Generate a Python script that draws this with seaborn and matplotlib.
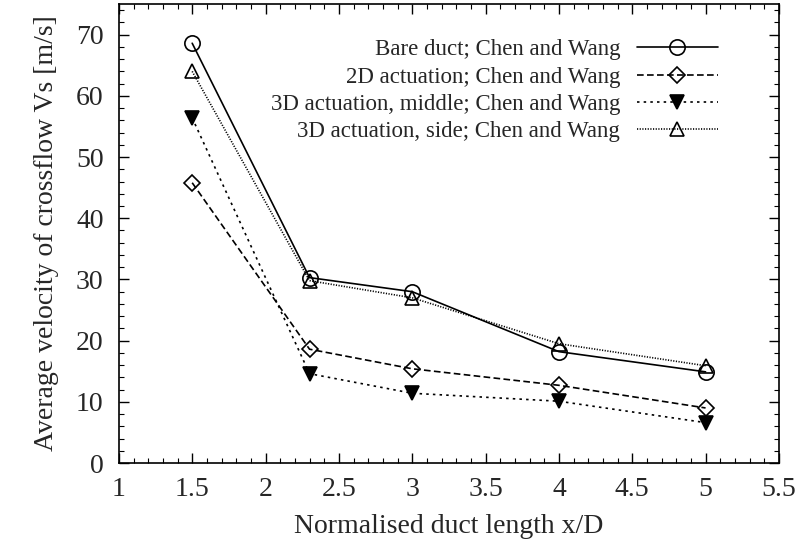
import numpy as np
import pandas as pd
import seaborn as sns
import matplotlib
matplotlib.use("Agg")
import matplotlib.pyplot as plt
from matplotlib.ticker import MultipleLocator

# measured positions along the duct
xD = [1.5, 2.3, 3.0, 4.0, 5.0]

# average crossflow velocity for each case
bare_list = [68.6, 30.3, 28.0, 18.2, 14.9]
act2d_list = [45.8, 18.6, 15.4, 12.7, 9.0]
act3dMid_list = [56.4, 14.6, 11.4, 10.1, 6.6]
act3dSide_list = [64.0, 29.8, 27.0, 19.5, 15.9]

labels_list = [
    "Bare duct; Chen and Wang",
    "2D actuation; Chen and Wang",
    "3D actuation, middle; Chen and Wang",
    "3D actuation, side; Chen and Wang",
]

xticks_list = [1, 1.5, 2, 2.5, 3, 3.5, 4, 4.5, 5, 5.5]
xtickLabels_list = ["1", "1.5", "2", "2.5", "3", "3.5", "4", "4.5", "5", "5.5"]

sns.set_theme(style="white")
plt.rcParams["font.family"] = ["Liberation Serif", "DejaVu Serif"]

fig = plt.figure(figsize=(8.03, 5.49), dpi=100)
ax = fig.add_axes([0.148, 0.1566, 0.822, 0.836])

# style per series: marker, linestyle, filled, size
styles = [
    ("o", "-", False, 11),
    ("D", (0, (4, 2)), False, 8),
    ("v", (0, (1.5, 2.5)), True, 10),
    ("^", (0, (0.7, 0.9)), False, 10),
]
series = [bare_list, act2d_list, act3dMid_list, act3dSide_list]

for vals, lab, (mk, ls, filled, ms) in zip(series, labels_list, styles):
    df = pd.DataFrame({"x": xD, "y": vals})
    sns.lineplot(data=df, x="x", y="y", ax=ax, color="black", lw=1.2,
                 linestyle=ls, marker=mk, markersize=ms,
                 markerfacecolor="black" if filled else "none",
                 markeredgecolor="black", markeredgewidth=1.2, label=lab)

ax.set_xlim(1, 5.5)
ax.set_ylim(0, 75)
ax.xaxis.set_minor_locator(MultipleLocator(0.1))
ax.yaxis.set_major_locator(MultipleLocator(10))
ax.yaxis.set_minor_locator(MultipleLocator(2))
ax.set_xticks(xticks_list)
ax.set_xticklabels(xtickLabels_list)

ax.tick_params(which="both", direction="in", top=True, right=True,
               bottom=True, left=True, color="black", labelsize=20)
ax.tick_params(which="major", length=7, width=1)
ax.tick_params(which="minor", length=3.5, width=0.8)
ax.tick_params(axis="x", pad=10)
ax.tick_params(axis="y", pad=11)

for sp in ax.spines.values():
    sp.set_color("black")
    sp.set_linewidth(1.2)

ax.set_xlabel("Normalised duct length x/D", fontsize=20, labelpad=9)
ax.set_ylabel("Average velocity of crossflow Vs [m/s]", fontsize=20, labelpad=12)

leg = ax.legend(loc="upper right", bbox_to_anchor=(0.921, 0.943),
                frameon=False, markerfirst=False, fontsize=16.5,
                handlelength=3.5, labelspacing=0.27, borderaxespad=0,
                handletextpad=0.75)

fig.savefig("out.png", dpi=100)
